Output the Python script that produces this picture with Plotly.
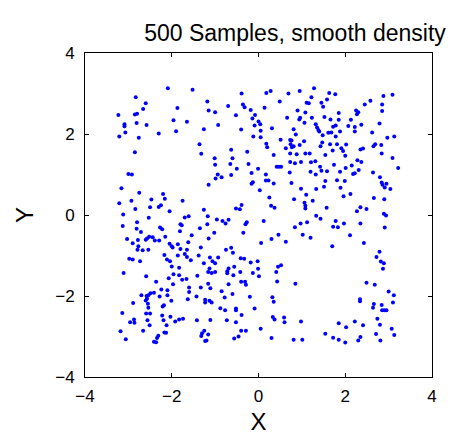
import plotly.graph_objects as go

# Sample points (x, y), grouped by region
pts_upper_left = [
    (-2.09, 3.13), (-1.52, 3.09), (-2.83, 2.91), (-2.60, 2.76), (-1.18, 2.80), (-2.66, 2.62),
    (-1.87, 2.64), (-1.15, 2.58), (-1.00, 2.54), (-2.80, 2.50), (-2.85, 2.48), (-1.96, 2.34),
    (-1.65, 2.30), (-2.81, 2.27), (-2.58, 2.22), (-0.93, 2.22), (-1.26, 2.12), (-1.90, 2.07),
    (-2.30, 2.01), (-2.76, 1.91), (-1.36, 1.75), (-2.85, 1.55), (-1.32, 1.51), (-1.01, 1.40),
    (-1.00, 1.24),
]
pts_left_edge = [
    (-3.23, 2.47), (-3.09, 2.24), (-3.09, 2.19), (-3.07, 2.04), (-3.21, 1.94), (-3.16, 0.66),
    (-3.21, 0.29), (-3.12, 0.01), (-3.13, -0.27), (-3.03, -0.59), (-3.11, -1.43), (-3.14, -2.42),
    (-3.18, -2.87), (-3.06, -3.07),
]
pts_upper_mid = [
    (-0.39, 3.00), (0.18, 3.01), (0.28, 3.06), (0.69, 3.00), (0.95, 3.06), (-0.70, 2.69),
    (-0.36, 2.73), (-0.32, 2.66), (0.49, 2.80), (1.11, 2.77), (1.16, 2.76), (0.14, 2.65),
    (-0.18, 2.59), (-0.08, 2.47), (-0.52, 2.46), (-0.14, 2.38), (0.90, 2.58), (1.08, 2.53),
    (0.96, 2.40), (0.94, 2.36), (0.66, 2.40), (0.00, 2.31), (0.04, 2.24), (1.06, 2.28),
    (-0.09, 2.21), (0.31, 2.14), (-0.40, 2.11), (0.81, 2.12), (0.05, 2.08), (0.86, 1.99),
    (-0.12, 1.94), (0.05, 1.92), (0.51, 1.86), (0.73, 1.85), (0.76, 1.84), (1.05, 1.82),
    (0.18, 1.76), (0.74, 1.75), (0.81, 1.70), (0.95, 1.73), (0.77, 1.67), (0.63, 1.65),
    (0.20, 1.67), (-0.63, 1.61), (-0.26, 1.56), (0.73, 1.52), (0.88, 1.50), (1.08, 1.52),
    (0.35, 1.48), (-0.60, 1.40), (-0.65, 1.26), (-0.23, 1.26), (0.73, 1.31), (0.84, 1.28),
    (0.98, 1.31), (0.42, 1.19), (0.47, 1.19), (0.52, 1.19), (-0.50, 1.14), (-0.01, 1.14),
]
pts_upper_right = [
    (1.28, 3.13), (1.63, 3.01), (1.77, 2.98), (1.22, 2.91), (1.58, 2.85), (1.45, 2.77),
    (1.49, 2.67), (2.58, 2.82), (2.45, 2.73), (2.88, 2.94), (3.09, 2.97), (2.85, 2.73),
    (2.85, 2.57), (2.25, 2.58), (2.30, 2.54), (2.27, 2.49), (1.85, 2.52), (1.23, 2.40),
    (1.52, 2.42), (1.66, 2.36), (1.85, 2.35), (2.13, 2.35), (1.32, 2.24), (1.35, 2.16),
    (1.38, 2.10), (1.40, 2.06), (1.72, 2.18), (1.78, 2.21), (2.07, 2.20), (2.22, 2.17),
    (2.37, 2.23), (2.79, 2.26), (1.61, 2.03), (1.68, 2.04), (1.88, 2.06), (1.48, 1.97),
    (2.22, 2.06), (1.78, 1.94), (2.62, 2.04), (2.97, 1.91), (3.13, 1.94), (1.47, 1.79),
    (1.65, 1.75), (1.81, 1.75), (2.02, 1.74), (1.43, 1.70), (1.91, 1.65), (2.35, 1.62),
    (2.41, 1.64), (2.65, 1.70), (2.69, 1.75), (2.83, 1.73), (1.71, 1.59), (1.95, 1.58),
    (1.18, 1.52), (1.54, 1.48), (2.00, 1.46), (2.84, 1.52), (3.09, 1.41), (2.28, 1.35),
    (2.37, 1.31), (1.21, 1.30), (1.31, 1.33), (1.42, 1.19), (1.74, 1.24), (2.01, 1.16),
    (2.15, 1.22), (3.22, 1.16),
]
pts_mid_left = [
    (-3.00, 1.01), (-2.92, 1.00), (-0.99, 0.90), (-0.94, 1.00), (-1.15, 0.75), (-2.75, 0.55),
    (-2.20, 0.52), (-2.93, 0.35), (-2.47, 0.38), (-2.16, 0.40), (-1.75, 0.35), (-2.25, 0.24),
    (-2.30, 0.20), (-2.50, 0.19), (-2.84, 0.15), (-2.05, 0.09), (-2.53, -0.07), (-1.70, -0.06),
    (-1.61, -0.03), (-1.26, 0.13), (-1.17, -0.03), (-0.96, -0.11), (-2.80, -0.18), (-1.80, -0.23),
    (-1.77, -0.25), (-1.18, -0.23), (-2.27, -0.31), (-2.22, -0.35), (-2.81, -0.34), (-1.35, -0.33),
    (-2.71, -0.42), (-1.81, -0.40), (-1.02, -0.44), (-1.54, -0.50), (-2.15, -0.54), (-2.52, -0.54),
    (-2.57, -0.58), (-2.44, -0.55), (-2.60, -0.61), (-2.39, -0.63), (-2.29, -0.63), (-2.78, -0.62),
    (-2.90, -0.70), (-1.15, -0.58), (-1.62, -0.67), (-2.05, -0.71), (-2.00, -0.77), (-1.98, -0.80),
    (-1.86, -0.72), (-2.77, -0.77), (-1.80, -0.84), (-1.65, -0.86), (-2.79, -0.86), (-2.67, -0.87),
    (-2.54, -0.86), (-1.33, -0.80), (-2.17, -0.99), (-1.86, -1.00), (-1.70, -0.96), (-1.65, -1.04),
    (-1.38, -1.00), (-1.12, -1.05),
]
pts_center = [
    (-0.85, 0.93), (-0.63, 0.99), (-0.16, 1.04), (0.17, 1.00), (0.72, 1.05), (-0.13, 0.81),
    (-0.16, 0.77), (0.17, 0.85), (0.23, 0.85), (0.35, 0.78), (0.76, 0.79), (0.03, 0.61),
    (0.98, 0.65), (1.10, 0.50), (0.25, 0.43), (0.82, 0.39), (1.06, 0.30), (1.08, 0.23),
    (1.08, 0.16), (-0.39, 0.25), (-0.52, 0.16), (-0.43, 0.14), (0.29, 0.23), (0.37, 0.18),
    (-0.83, -0.15), (-0.76, -0.21), (-0.69, -0.12), (-0.27, -0.18), (-0.30, -0.23), (0.12, -0.15),
    (1.12, -0.18), (0.97, -0.21), (0.84, -0.30), (-0.35, -0.44), (1.02, -0.49), (0.46, -0.49),
    (0.30, -0.59), (0.63, -0.66), (0.06, -0.69), (-0.75, -0.86), (-0.63, -0.81), (-0.59, -0.93),
]
pts_mid_right = [
    (1.20, 1.07), (1.32, 1.00), (1.45, 1.09), (1.58, 1.08), (1.88, 1.07), (2.18, 1.01),
    (2.22, 1.03), (2.31, 1.11), (2.64, 1.05), (2.80, 0.93), (2.84, 0.80), (2.86, 0.75),
    (2.95, 0.77), (2.91, 0.68), (3.04, 0.64), (1.54, 0.84), (1.81, 0.86), (1.99, 0.84),
    (1.51, 0.70), (1.89, 0.67), (1.33, 0.64), (2.12, 0.52), (1.96, 0.46), (2.66, 0.42),
    (2.90, 0.39), (1.25, 0.35), (1.57, 0.18), (2.35, 0.19), (2.49, 0.15), (2.27, 0.09),
    (2.89, 0.03), (2.94, -0.01), (1.33, -0.02), (1.43, -0.09), (1.78, -0.15), (1.97, -0.21),
    (2.35, -0.21), (1.72, -0.29), (1.83, -0.30), (2.91, -0.31), (1.20, -0.56), (2.11, -0.50),
    (2.43, -0.69), (1.70, -0.77), (2.79, -0.91),
]
pts_lower_left = [
    (-2.98, -1.08), (-2.90, -1.10), (-2.73, -1.14), (-2.11, -1.10), (-2.04, -1.14), (-1.56, -1.12),
    (-1.26, -1.19), (-1.06, -1.14), (-1.00, -1.19), (-2.00, -1.27), (-1.83, -1.30), (-1.13, -1.32),
    (-1.16, -1.41), (-1.08, -1.43), (-1.00, -1.41), (-2.59, -1.51), (-1.96, -1.46), (-1.83, -1.49),
    (-1.76, -1.60), (-2.07, -1.56), (-1.66, -1.58), (-1.41, -1.50), (-2.36, -1.65), (-1.16, -1.70),
    (-1.97, -1.71), (-1.60, -1.79), (-1.33, -1.79), (-1.11, -1.81), (-2.24, -1.84), (-2.10, -1.86),
    (-2.41, -1.92), (-2.49, -1.93), (-2.70, -1.98), (-2.58, -2.00), (-2.54, -1.98), (-1.60, -1.90),
    (-2.10, -1.98), (-2.28, -2.01), (-2.57, -2.07), (-2.60, -2.11), (-2.01, -2.12), (-1.63, -2.08),
    (-1.43, -2.01), (-1.23, -2.09), (-1.13, -2.12), (-1.08, -2.16), (-1.23, -2.16), (-2.89, -2.17),
    (-2.55, -2.19), (-2.18, -2.23), (-2.21, -2.26), (-2.54, -2.29), (-2.59, -2.43), (-2.50, -2.43),
    (-2.22, -2.48), (-2.03, -2.51), (-1.74, -2.56), (-1.83, -2.58), (-1.92, -2.63), (-2.19, -2.60),
    (-1.42, -2.60), (-1.11, -2.59), (-2.87, -2.58), (-2.96, -2.65), (-2.86, -2.66), (-2.56, -2.60),
    (-2.51, -2.72), (-2.12, -2.72), (-2.66, -2.86), (-2.17, -2.90), (-2.13, -2.91), (-2.31, -2.98),
    (-2.34, -3.04), (-1.25, -2.86), (-1.30, -2.92), (-1.32, -2.99), (-1.20, -3.10), (-1.23, -3.11),
    (-1.16, -2.95), (-2.41, -3.13), (-2.36, -3.14),
]
pts_lower_mid = [
    (-0.93, -1.05), (-0.41, -1.07), (-0.33, -1.08), (-0.18, -1.17), (-0.02, -1.14), (-0.69, -1.32),
    (-0.56, -1.28), (-0.72, -1.39), (-0.72, -1.44), (-0.58, -1.49), (-0.42, -1.41), (-0.13, -1.43),
    (-0.01, -1.33), (0.01, -1.51), (0.45, -1.28), (0.52, -1.24), (0.41, -1.41), (-0.40, -1.65),
    (-0.31, -1.65), (-0.29, -1.72), (-0.69, -1.71), (0.43, -1.64), (0.85, -1.70), (-0.85, -1.88),
    (-0.60, -1.95), (-0.78, -2.04), (-0.20, -2.02), (0.32, -2.03), (0.35, -2.14), (-0.88, -2.30),
    (-0.77, -2.35), (-0.52, -2.35), (-0.52, -2.31), (-0.09, -2.31), (-0.39, -2.47), (0.33, -2.52),
    (0.37, -2.58), (0.59, -2.53), (0.60, -2.65), (0.98, -2.63), (-0.73, -2.60), (-0.52, -2.65),
    (-0.40, -2.86), (-0.29, -2.86), (0.05, -2.81), (-0.46, -3.00), (-0.56, -3.05), (0.30, -3.04),
    (0.81, -3.08), (1.01, -3.08),
]
pts_lower_right = [
    (2.72, -1.04), (2.82, -1.15), (2.89, -1.19), (2.87, -1.33), (2.49, -1.67), (2.68, -1.72),
    (3.00, -1.89), (3.12, -1.98), (2.34, -2.08), (2.34, -2.13), (2.66, -2.20), (2.64, -2.29),
    (2.84, -2.22), (3.10, -2.16), (2.85, -2.35), (2.90, -2.35), (2.95, -2.35), (2.74, -2.56),
    (2.22, -2.63), (1.85, -2.67), (2.02, -2.77), (2.41, -2.72), (2.80, -2.71), (3.07, -2.81),
    (1.54, -2.93), (1.72, -3.03), (1.85, -3.08), (2.00, -3.15), (2.30, -3.10), (2.35, -3.01),
    (2.71, -2.94), (3.13, -2.96), (2.81, -3.10),
]

tick_vals = [-4, -2, 0, 2, 4]
tick_text = ["\u22124", "\u22122", "0", "2", "4"]

all_pts = (pts_upper_left + pts_left_edge + pts_upper_mid + pts_upper_right + pts_mid_left
           + pts_center + pts_mid_right + pts_lower_left + pts_lower_mid + pts_lower_right)
xs = [p[0] for p in all_pts]
ys = [p[1] for p in all_pts]

FONT = "Liberation Sans, Arial, Helvetica, sans-serif"

fig = go.Figure()
fig.add_trace(go.Scatter(
    x=xs, y=ys, mode="markers",
    marker=dict(color="#0000ff", size=4, line=dict(width=0)),
    showlegend=False, hoverinfo="skip",
))

axis_common = dict(
    range=[-4, 4], tickmode="array", tickvals=tick_vals, ticktext=tick_text,
    showgrid=False, zeroline=False, showline=True, linecolor="black", linewidth=1,
    mirror="allticks", ticks="inside", ticklen=4, tickcolor="black",
    tickfont=dict(family=FONT, size=17, color="black"), automargin=False,
)

# the page adds an 8px body margin, so the figure is drawn 8px smaller
W, H = 451, 427
fig.update_layout(
    width=W, height=H,
    margin=dict(l=77, r=27, t=45, b=58, autoexpand=False),
    paper_bgcolor="white", plot_bgcolor="white",
    title=dict(text="500 Samples, smooth density", x=287 / W, xanchor="center",
               xref="container", yref="container",
               y=1 - 25 / H, yanchor="middle",
               font=dict(family=FONT, size=23, color="black")),
    xaxis=dict(**axis_common, ticklabelstandoff=4,
               title=dict(text="X", standoff=9,
                          font=dict(family=FONT, size=24, color="black"))),
    yaxis=dict(**axis_common, ticklabelstandoff=6,
               title=dict(text="Y", standoff=14,
                          font=dict(family=FONT, size=24, color="black"))),
)

fig.write_html("out.html")
